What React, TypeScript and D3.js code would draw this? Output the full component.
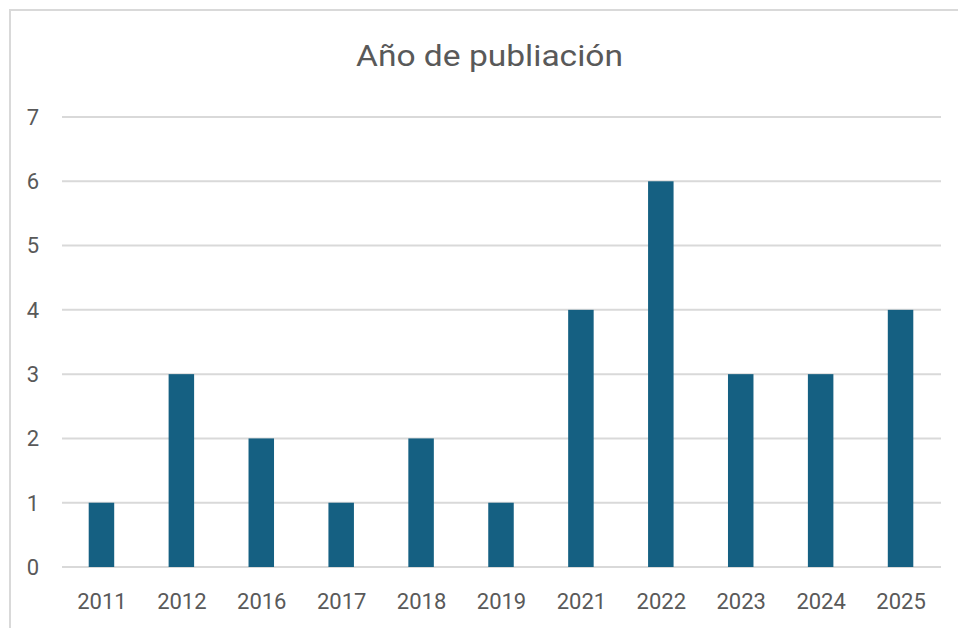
import React, { useEffect, useRef } from 'react';
import * as d3 from 'd3';

const years = ['2011', '2012', '2016', '2017', '2018', '2019', '2021', '2022', '2023', '2024', '2025'];
const counts = [1, 3, 2, 1, 2, 1, 4, 6, 3, 3, 4];
const yTicks = [0, 1, 2, 3, 4, 5, 6, 7];
const title = 'Año de publiación';

export default function App() {
  const svgRef = useRef<SVGSVGElement | null>(null);

  useEffect(() => {
    if (!svgRef.current) return;
    const width = 958;
    const height = 628;
    const margin = { top: 117, right: 17, bottom: 61, left: 62 };
    const innerWidth = width - margin.left - margin.right;
    const innerHeight = height - margin.top - margin.bottom;

    const svg = d3.select(svgRef.current);
    svg.selectAll('*').remove();

    // chart frame (runs off the right and bottom edges, like the screenshot)
    svg.append('rect')
      .attr('x', 10)
      .attr('y', 10)
      .attr('width', 960)
      .attr('height', 640)
      .attr('fill', '#fff')
      .attr('stroke', '#d9d9d9')
      .attr('stroke-width', 2);

    svg.append('text')
      .attr('x', 489.5)
      .attr('y', 66)
      .attr('text-anchor', 'middle')
      .attr('fill', '#595959')
      .attr('font-size', '29px')
      .attr('font-family', 'Roboto, sans-serif')
      .attr('textLength', 267)
      .attr('lengthAdjust', 'spacingAndGlyphs')
      .text(title);

    const x = d3.scaleBand<string>()
      .domain(years)
      .range([0, innerWidth]);

    const y = d3.scaleLinear()
      .domain([0, 7])
      .range([innerHeight, 0]);

    const g = svg.append('g')
      .attr('transform', `translate(${margin.left},${margin.top})`);

    // gridlines
    g.append('g')
      .selectAll('line')
      .data(yTicks)
      .enter()
      .append('line')
      .attr('x1', 0)
      .attr('x2', innerWidth)
      .attr('y1', d => y(d))
      .attr('y2', d => y(d))
      .attr('stroke', '#d9d9d9')
      .attr('stroke-width', 2);

    // y labels
    g.append('g')
      .selectAll('text')
      .data(yTicks)
      .enter()
      .append('text')
      .attr('x', -23)
      .attr('y', d => y(d))
      .attr('dy', '0.36em')
      .attr('text-anchor', 'end')
      .attr('fill', '#595959')
      .attr('font-size', '22px')
      .attr('font-family', 'Roboto, sans-serif')
      .text(d => d);

    // bars
    const data = years.map((yr, i) => ({ yr, v: counts[i] }));
    const barW = 25.5;
    g.selectAll('.bar')
      .data(data)
      .enter()
      .append('rect')
      .attr('class', 'bar')
      .attr('x', d => (x(d.yr) as number) + x.bandwidth() / 2 - barW / 2 - 0.5)
      .attr('y', d => y(d.v))
      .attr('width', barW)
      .attr('height', d => innerHeight - y(d.v))
      .attr('fill', '#156082');

    // x labels
    g.append('g')
      .selectAll('text')
      .data(years)
      .enter()
      .append('text')
      .attr('x', d => (x(d) as number) + x.bandwidth() / 2)
      .attr('y', innerHeight + 34)
      .attr('dy', '0.36em')
      .attr('text-anchor', 'middle')
      .attr('fill', '#595959')
      .attr('font-size', '22px')
      .attr('font-family', 'Roboto, sans-serif')
      .text(d => d);
  }, []);

  return (
    <div style={{ position: 'absolute', left: 0, top: 0, width: 958, height: 628, background: '#fff' }}>
      <svg ref={svgRef} width={958} height={628} style={{ display: 'block' }} />
    </div>
  );
}
